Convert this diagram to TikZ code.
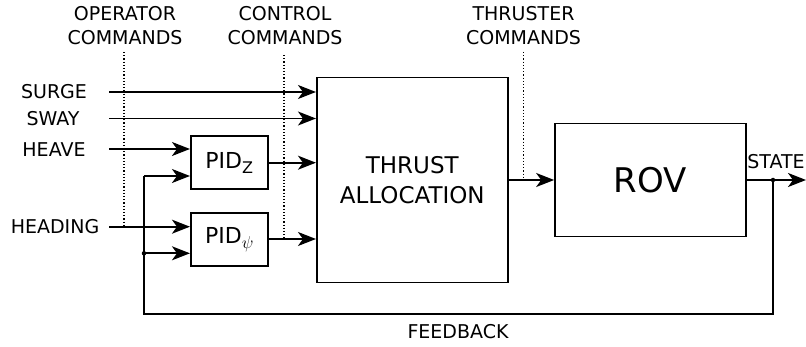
\documentclass[tikz,border=0pt]{standalone}
\usepackage{fontspec}
\setmainfont{DejaVu Sans}
\usetikzlibrary{arrows.meta,calc}
\newcommand{\pidsub}[1]{\raisebox{-5pt}{\fontsize{16}{16}\selectfont$#1$}}
\begin{document}
\begin{tikzpicture}[x=1pt,y=-1pt,
  lbl/.style={font=\fontsize{19}{24}\selectfont, inner sep=0pt, align=center},
  blk/.style={draw, line width=1.7pt, inner sep=0pt},
  conn/.style={line width=1.7pt, -{Stealth[length=18pt,width=14pt,inset=5pt]}},
  wire/.style={line width=1.7pt},
  dotln/.style={line width=1.2pt, dotted},
  junc/.style={circle, fill, inner sep=0pt, minimum size=4.5pt}]
\useasboundingbox (0,0) rectangle (806,347);
% blocks
\node[blk, minimum width=77pt, minimum height=53pt] (pidz) at (229.3,162.7) {\fontsize{22}{24}\selectfont PID\pidsub{\mathrm{Z}}};
\node[blk, minimum width=77pt, minimum height=53pt] (pidp) at (229.3,239.7) {\fontsize{22}{24}\selectfont PID\pidsub{\psi}};
\node[blk, minimum width=191pt, minimum height=205pt, align=center, font=\fontsize{23}{30}\selectfont] (ta) at (412.3,180) {THRUST\\ALLOCATION};
\node[blk, minimum width=191pt, minimum height=113pt, font=\fontsize{34}{36}\selectfont] (rov) at (650.5,180) {ROV};
% labels
\node[lbl] (op) at (125,26) {OPERATOR\\COMMANDS};
\node[lbl] (cc) at (285,26) {CONTROL\\COMMANDS};
\node[lbl] (tc) at (523.5,26) {THRUSTER\\COMMANDS};
\node[lbl] (surge) at (54,92) {SURGE};
\node[lbl] (sway) at (53,118.5) {SWAY};
\node[lbl] (heave) at (54,150) {HEAVE};
\node[lbl] (heading) at (55,226.7) {HEADING};
\node[lbl] (state) at (776,161.5) {STATE};
\node[lbl] (fb) at (458,332) {FEEDBACK};
% coordinates
\coordinate (s0) at (109,92);
\coordinate (w0) at (109,118.5);
\coordinate (h0) at (109,149);
\coordinate (hd0) at (109,226.7);
\coordinate (fbz) at (144,176);
\coordinate (fbp) at (144,253.3);
\coordinate (fbr) at (773,180);
\coordinate (out) at (806,180);
\coordinate (fbbl) at (144,314.3);
\coordinate (fbbr) at (773,314.3);
% dotted lines
\draw[dotln] (124,52) -- (124,226.7);
\draw[dotln] (284,55) -- (284,239);
\draw[dotln] (523.7,52) -- (523.7,180);
% connectors
\draw[conn] (s0) -- (s0 -| ta.west);
\draw[conn] (w0) -- (w0 -| ta.west);
\draw[conn] (h0) -- (h0 -| pidz.west);
\draw[conn] (fbz) -- (fbz -| pidz.west);
\draw[conn] (hd0) -- (hd0 -| pidp.west);
\draw[conn] (fbp) -- (fbp -| pidp.west);
\draw[conn] (pidz.east) -- (pidz.east -| ta.west);
\draw[conn] (268,239) -- (ta.west |- 0,239);
\draw[conn] (ta.east) -- (rov.west);
\draw[conn] (rov.east) -- (out);
\draw[wire] (fbr) -- (fbbr) -- (fbbl) -- (fbz);
\node[junc] at (fbr) {};
\node[junc] at (fbp) {};
\end{tikzpicture}
\end{document}
